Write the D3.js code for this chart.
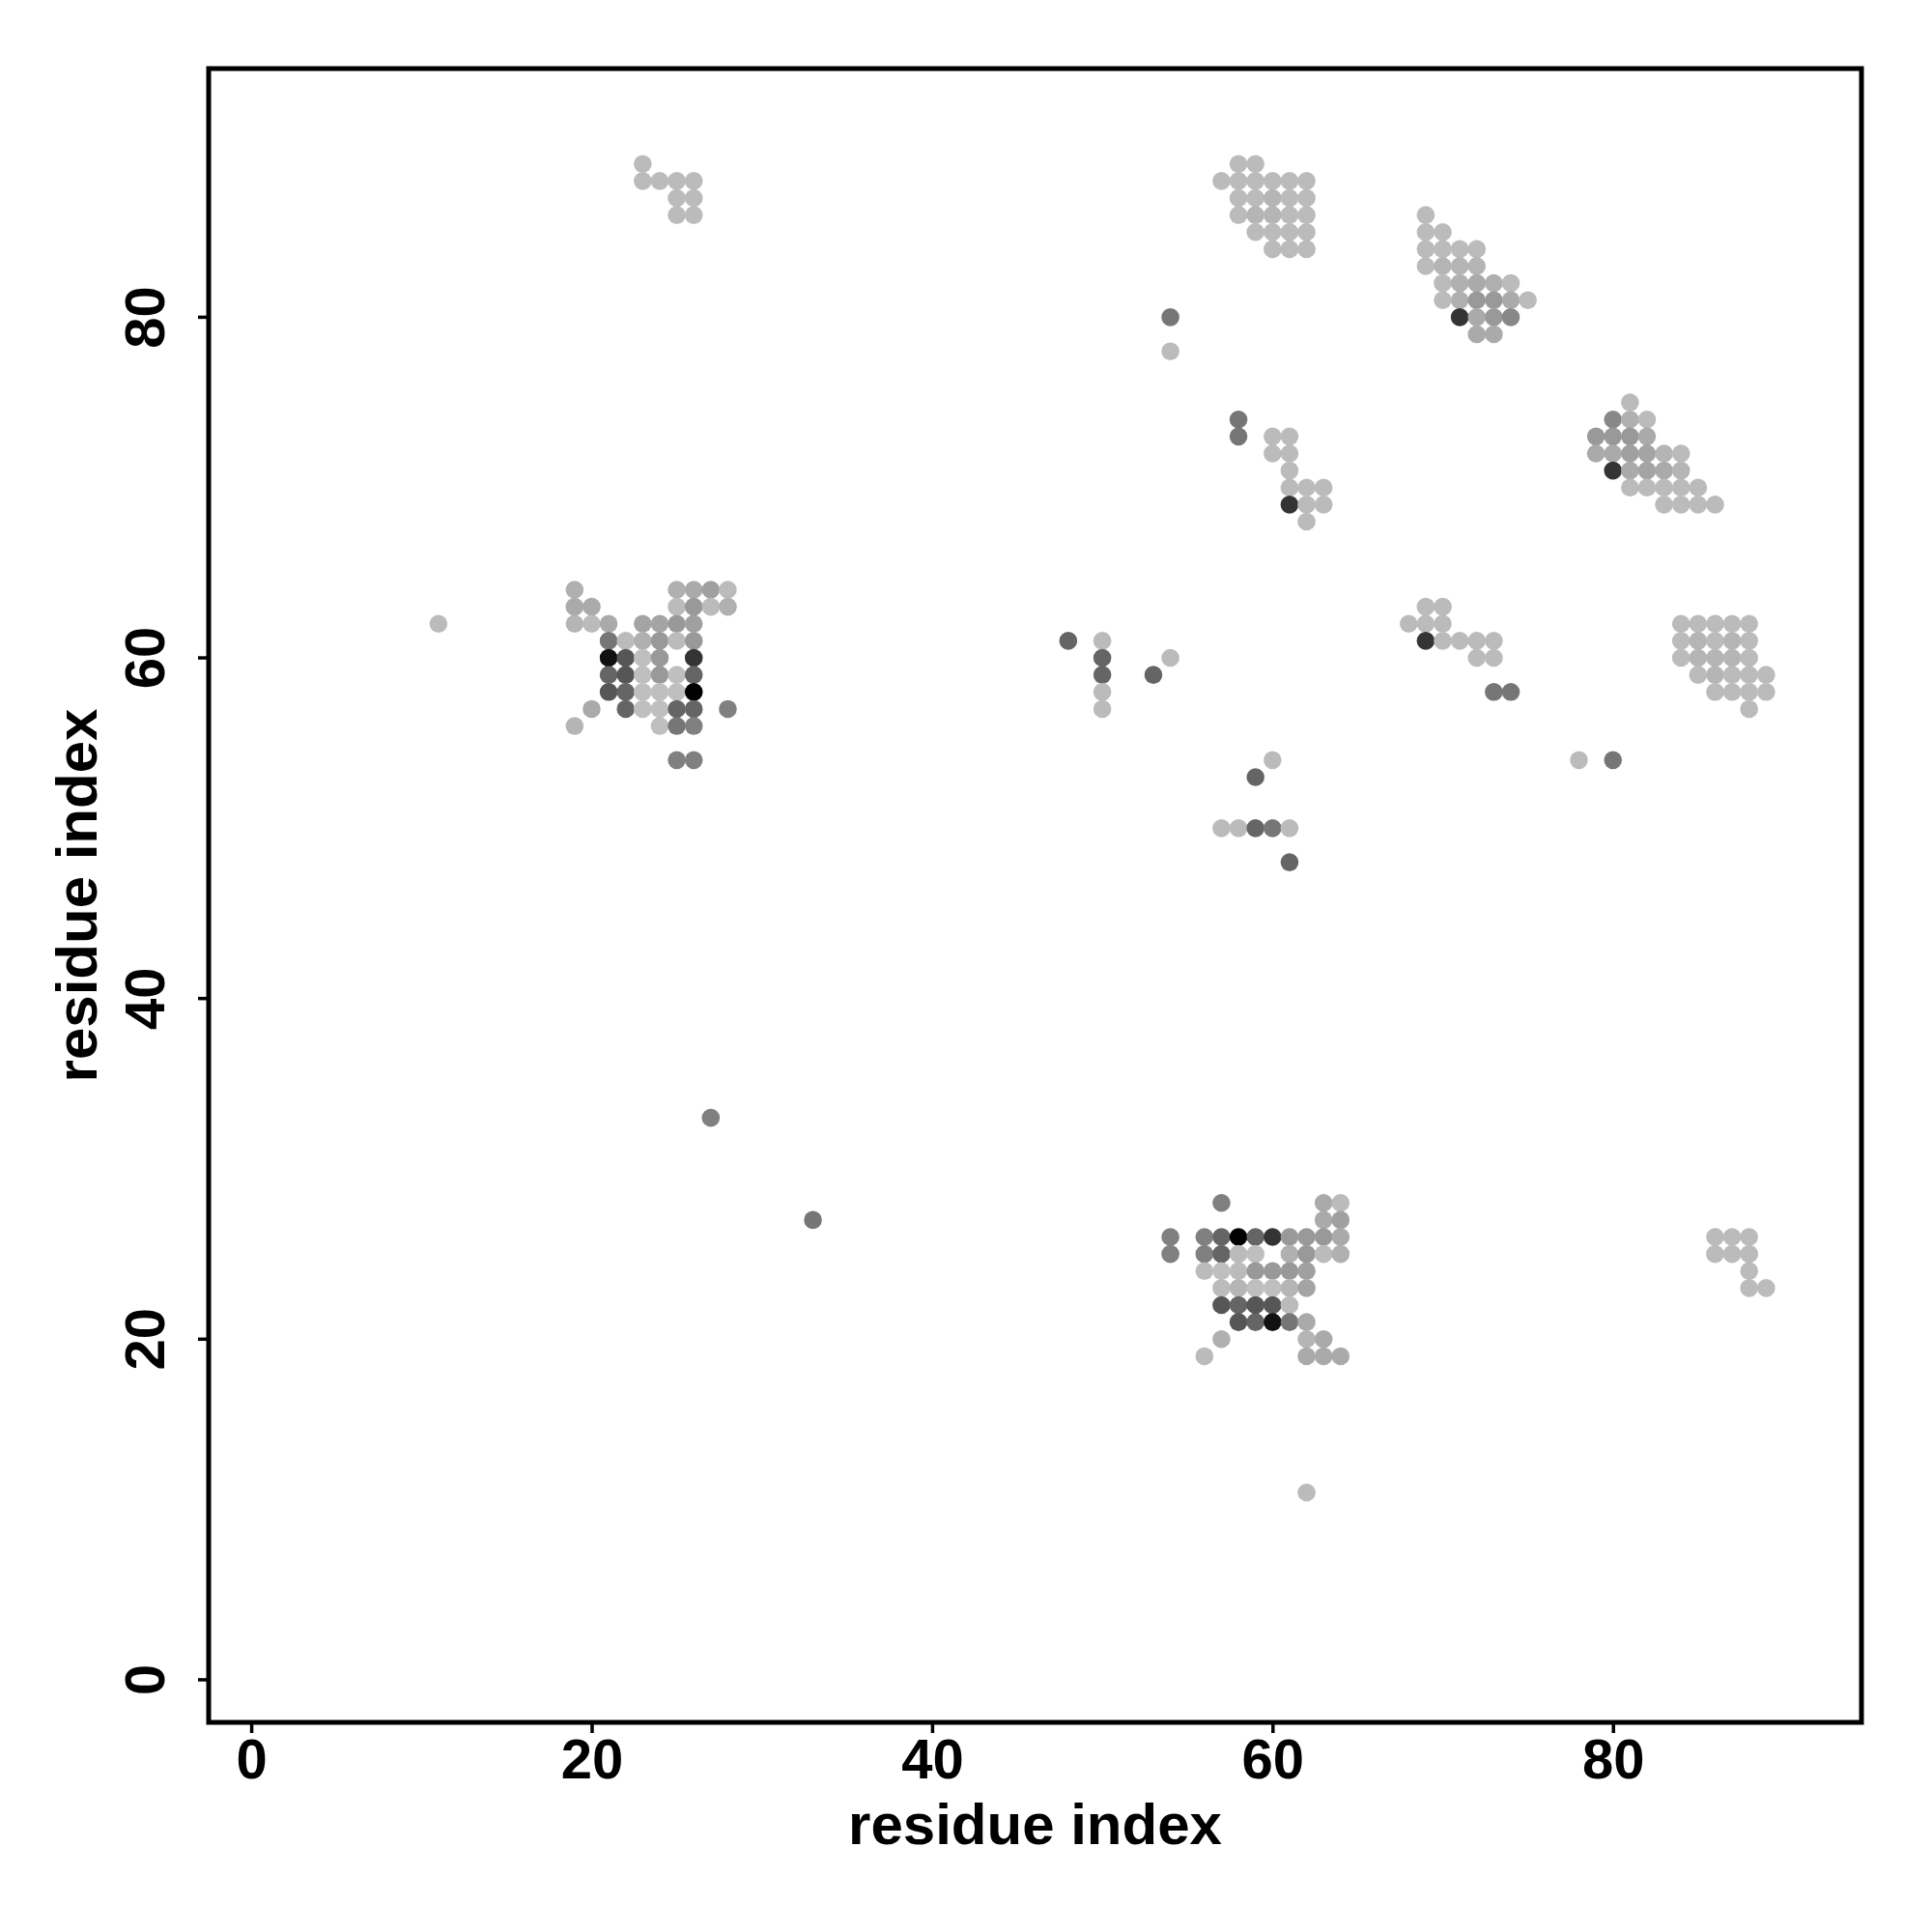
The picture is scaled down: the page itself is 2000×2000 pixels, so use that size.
<!DOCTYPE html>
<html>
<head>
<meta charset="utf-8">
<script src="https://cdn.jsdelivr.net/npm/d3@7"></script>
<style>
  body { margin: 0; background: #fff; }
  svg text { font-family: "Liberation Sans", Arial, sans-serif; font-weight: bold; }
</style>
</head>
<body>
<svg id="chart" width="2000" height="2000"></svg>
<script>
// contacts: [residue i, residue j, score 0..1 (higher = darker)]
const contacts = [
  // top-left block
  [23, 89, 0.02], [23, 88, 0.02], [24, 88, 0.02], [25, 88, 0.02], [26, 88, 0.02],
  [25, 87, 0.02], [26, 87, 0.02], [25, 86, 0.02], [26, 86, 0.02],
  // block around (23, 59)
  [19, 64, 0.08], [25, 64, 0.08], [26, 64, 0.11], [27, 64, 0.16], [28, 64, 0.02],
  [19, 63, 0.11], [20, 63, 0.11], [25, 63, 0.02], [26, 63, 0.2], [27, 63, 0.02], [28, 63, 0.08],
  [19, 62, 0.05], [20, 62, 0.02], [21, 62, 0.11], [23, 62, 0.14], [24, 62, 0.14], [25, 62, 0.2], [26, 62, 0.16],
  [21, 61, 0.38], [22, 61, 0.02], [23, 61, 0.08], [24, 61, 0.2], [25, 61, 0.02], [26, 61, 0.2],
  [21, 60, 0.91], [22, 60, 0.55], [23, 60, 0], [24, 60, 0.2], [26, 60, 0.73],
  [21, 59, 0.47], [22, 59, 0.55], [23, 59, 0], [24, 59, 0.2], [25, 59, 0], [26, 59, 0.47],
  [21, 58, 0.55], [22, 58, 0.47], [23, 58, 0], [24, 58, 0], [25, 58, 0], [26, 58, 1],
  [20, 57, 0.11], [22, 57, 0.47], [23, 57, 0], [24, 57, 0], [25, 57, 0.47], [26, 57, 0.47], [28, 57, 0.33],
  [19, 56, 0.05], [24, 56, 0], [25, 56, 0.38], [26, 56, 0.33],
  [25, 54, 0.33], [26, 54, 0.33],
  // singles
  [11, 62, 0.02], [27, 33, 0.33], [33, 27, 0.38], [62, 11, 0.02], [78, 54, 0.02], [80, 54, 0.38],
  // block around (60, 86)
  [58, 89, 0.02], [59, 89, 0.02],
  [57, 88, 0.02], [58, 88, 0.02], [59, 88, 0.02], [60, 88, 0.02], [61, 88, 0.02], [62, 88, 0.02],
  [58, 87, 0.02], [59, 87, 0.02], [60, 87, 0.05], [61, 87, 0.02], [62, 87, 0.02],
  [58, 86, 0.02], [59, 86, 0.05], [60, 86, 0.05], [61, 86, 0.02], [62, 86, 0.02],
  [59, 85, 0.02], [60, 85, 0.02], [61, 85, 0.02], [62, 85, 0.02],
  [60, 84, 0.02], [61, 84, 0.02], [62, 84, 0.02],
  // block around (72, 82)
  [69, 86, 0.02],
  [69, 85, 0.02], [70, 85, 0.02],
  [69, 84, 0.02], [70, 84, 0.02], [71, 84, 0.02], [72, 84, 0.02],
  [69, 83, 0.02], [70, 83, 0.05], [71, 83, 0.05], [72, 83, 0.05],
  [70, 82, 0.02], [71, 82, 0.08], [72, 82, 0.11], [73, 82, 0.08], [74, 82, 0.02],
  [70, 81, 0.02], [71, 81, 0.08], [72, 81, 0.2], [73, 81, 0.2], [74, 81, 0.11], [75, 81, 0.02],
  [71, 80, 0.73], [72, 80, 0.11], [73, 80, 0.2], [74, 80, 0.29],
  [72, 79, 0.11], [73, 79, 0.11],
  // around (54, 79) and (61, 71)
  [54, 80, 0.38], [54, 78, 0.02],
  [58, 74, 0.38], [58, 73, 0.38],
  [60, 73, 0.02], [61, 73, 0.02], [60, 72, 0.02], [61, 72, 0.02], [61, 71, 0.02],
  [61, 70, 0.02], [62, 70, 0.02], [63, 70, 0.02],
  [61, 69, 0.73], [62, 69, 0.02], [63, 69, 0.02], [62, 68, 0.02],
  // block around (82, 72)
  [81, 75, 0.02],
  [80, 74, 0.29], [81, 74, 0.08], [82, 74, 0.02],
  [79, 73, 0.2], [80, 73, 0.2], [81, 73, 0.2], [82, 73, 0.11],
  [79, 72, 0.11], [80, 72, 0.11], [81, 72, 0.16], [82, 72, 0.14], [83, 72, 0.05], [84, 72, 0.02],
  [80, 71, 0.73], [81, 71, 0.11], [82, 71, 0.14], [83, 71, 0.11], [84, 71, 0.05],
  [81, 70, 0.02], [82, 70, 0.02], [83, 70, 0.02], [84, 70, 0.02], [85, 70, 0.02],
  [83, 69, 0.02], [84, 69, 0.02], [85, 69, 0.02], [86, 69, 0.02],
  // middle strip
  [48, 61, 0.47], [50, 61, 0.02], [50, 60, 0.47], [50, 59, 0.47], [50, 58, 0.02], [50, 57, 0.02],
  [53, 59, 0.47], [54, 60, 0.02],
  // around (70, 61)
  [69, 63, 0.02], [70, 63, 0.02],
  [68, 62, 0.02], [69, 62, 0.02], [70, 62, 0.02],
  [69, 61, 0.73], [70, 61, 0.02], [71, 61, 0.02], [72, 61, 0.02], [73, 61, 0.02],
  [72, 60, 0.02], [73, 60, 0.02],
  [73, 58, 0.38], [74, 58, 0.38],
  // block around (86, 60)
  [84, 62, 0.02], [85, 62, 0.02], [86, 62, 0.02], [87, 62, 0.02], [88, 62, 0.02],
  [84, 61, 0.02], [85, 61, 0.05], [86, 61, 0.02], [87, 61, 0.05], [88, 61, 0.02],
  [84, 60, 0.02], [85, 60, 0.05], [86, 60, 0.05], [87, 60, 0.05], [88, 60, 0.02],
  [85, 59, 0.02], [86, 59, 0.05], [87, 59, 0.02], [88, 59, 0.02], [89, 59, 0.02],
  [86, 58, 0.02], [87, 58, 0.02], [88, 58, 0.02], [89, 58, 0.02],
  [88, 57, 0.02],
  // around (59, 51)
  [60, 54, 0.02], [59, 53, 0.47],
  [57, 50, 0.02], [58, 50, 0.02], [59, 50, 0.47], [60, 50, 0.38], [61, 50, 0.02],
  [61, 48, 0.47],
  // block around (60, 24)
  [57, 28, 0.33], [63, 28, 0.11], [64, 28, 0.02],
  [63, 27, 0.11], [64, 27, 0.16],
  [54, 26, 0.33], [56, 26, 0.33], [57, 26, 0.47], [58, 26, 1], [59, 26, 0.47], [60, 26, 0.73],
  [61, 26, 0.2], [62, 26, 0.2], [63, 26, 0.2], [64, 26, 0.11],
  [54, 25, 0.33], [56, 25, 0.33], [57, 25, 0.47], [58, 25, 0.02], [59, 25, 0], [61, 25, 0.08],
  [62, 25, 0.2], [63, 25, 0.02], [64, 25, 0.08],
  [56, 24, 0.02], [57, 24, 0], [58, 24, 0.02], [59, 24, 0.2], [60, 24, 0.2], [61, 24, 0.2], [62, 24, 0.16],
  [57, 23, 0.02], [58, 23, 0.05], [59, 23, 0], [60, 23, 0], [61, 23, 0.05], [62, 23, 0.14],
  [57, 22, 0.55], [58, 22, 0.47], [59, 22, 0.55], [60, 22, 0.55], [61, 22, 0.02],
  [58, 21, 0.55], [59, 21, 0.47], [60, 21, 0.91], [61, 21, 0.38], [62, 21, 0.11],
  [57, 20, 0.08], [62, 20, 0.05], [63, 20, 0.11],
  [56, 19, 0.02], [62, 19, 0.11], [63, 19, 0.11], [64, 19, 0.11],
  // lower-right block
  [86, 26, 0.02], [87, 26, 0.02], [88, 26, 0.02],
  [86, 25, 0.02], [87, 25, 0.02], [88, 25, 0.02],
  [88, 24, 0.02], [88, 23, 0.02], [89, 23, 0.02]
];

const axisDomain = [-2.5, 94.6];
const tickValues = [0, 20, 40, 60, 80];
const xLabel = "residue index";
const yLabel = "residue index";

const box = { left: 216, right: 1927, top: 71, bottom: 1783 };
const svg = d3.select("#chart");

const x = d3.scaleLinear().domain(axisDomain).range([box.left, box.right]);
const y = d3.scaleLinear().domain(axisDomain).range([box.bottom, box.top]);
const shade = d3.scaleLinear().domain([0, 1]).range(["#bfbfbf", "#000000"]).clamp(true);

// points
svg.append("g")
  .selectAll("circle")
  .data(contacts)
  .enter()
  .append("circle")
  .attr("cx", d => x(d[0]))
  .attr("cy", d => y(d[1]))
  .attr("r", 9.3)
  .attr("fill", d => shade(d[2]));

// axes
const xAxis = svg.append("g")
  .attr("transform", `translate(0,${box.bottom})`)
  .call(d3.axisBottom(x).tickValues(tickValues).tickSize(11).tickPadding(12));
const yAxis = svg.append("g")
  .attr("transform", `translate(${box.left},0)`)
  .call(d3.axisLeft(y).tickValues(tickValues).tickSize(11).tickPadding(12));

[xAxis, yAxis].forEach(a => {
  a.select(".domain").remove();
  a.selectAll("line").attr("stroke", "#000").attr("stroke-width", 3.5);
  a.selectAll("text").attr("font-size", 58).attr("fill", "#000")
    .style("font-family", '"Liberation Sans", Arial, sans-serif').style("font-weight", "bold");
});

xAxis.selectAll("text").attr("dy", null).attr("y", 58);
yAxis.selectAll("text")
  .attr("x", null).attr("dy", null)
  .attr("text-anchor", "middle")
  .attr("transform", d => `translate(-46,${y(d)}) rotate(-90)`)
  .attr("y", 0);
yAxis.selectAll(".tick").attr("transform", null);
yAxis.selectAll(".tick line").attr("y1", d => y(d)).attr("y2", d => y(d));

// frame
svg.append("rect")
  .attr("x", box.left).attr("y", box.top)
  .attr("width", box.right - box.left).attr("height", box.bottom - box.top)
  .attr("fill", "none").attr("stroke", "#000").attr("stroke-width", 5);

// titles
svg.append("text")
  .attr("x", (box.left + box.right) / 2).attr("y", 1909)
  .attr("text-anchor", "middle").attr("font-size", 60)
  .text(xLabel);
svg.append("text")
  .attr("transform", `translate(100,${(box.top + box.bottom) / 2}) rotate(-90)`)
  .attr("text-anchor", "middle").attr("font-size", 60)
  .text(yLabel);
</script>
</body>
</html>
